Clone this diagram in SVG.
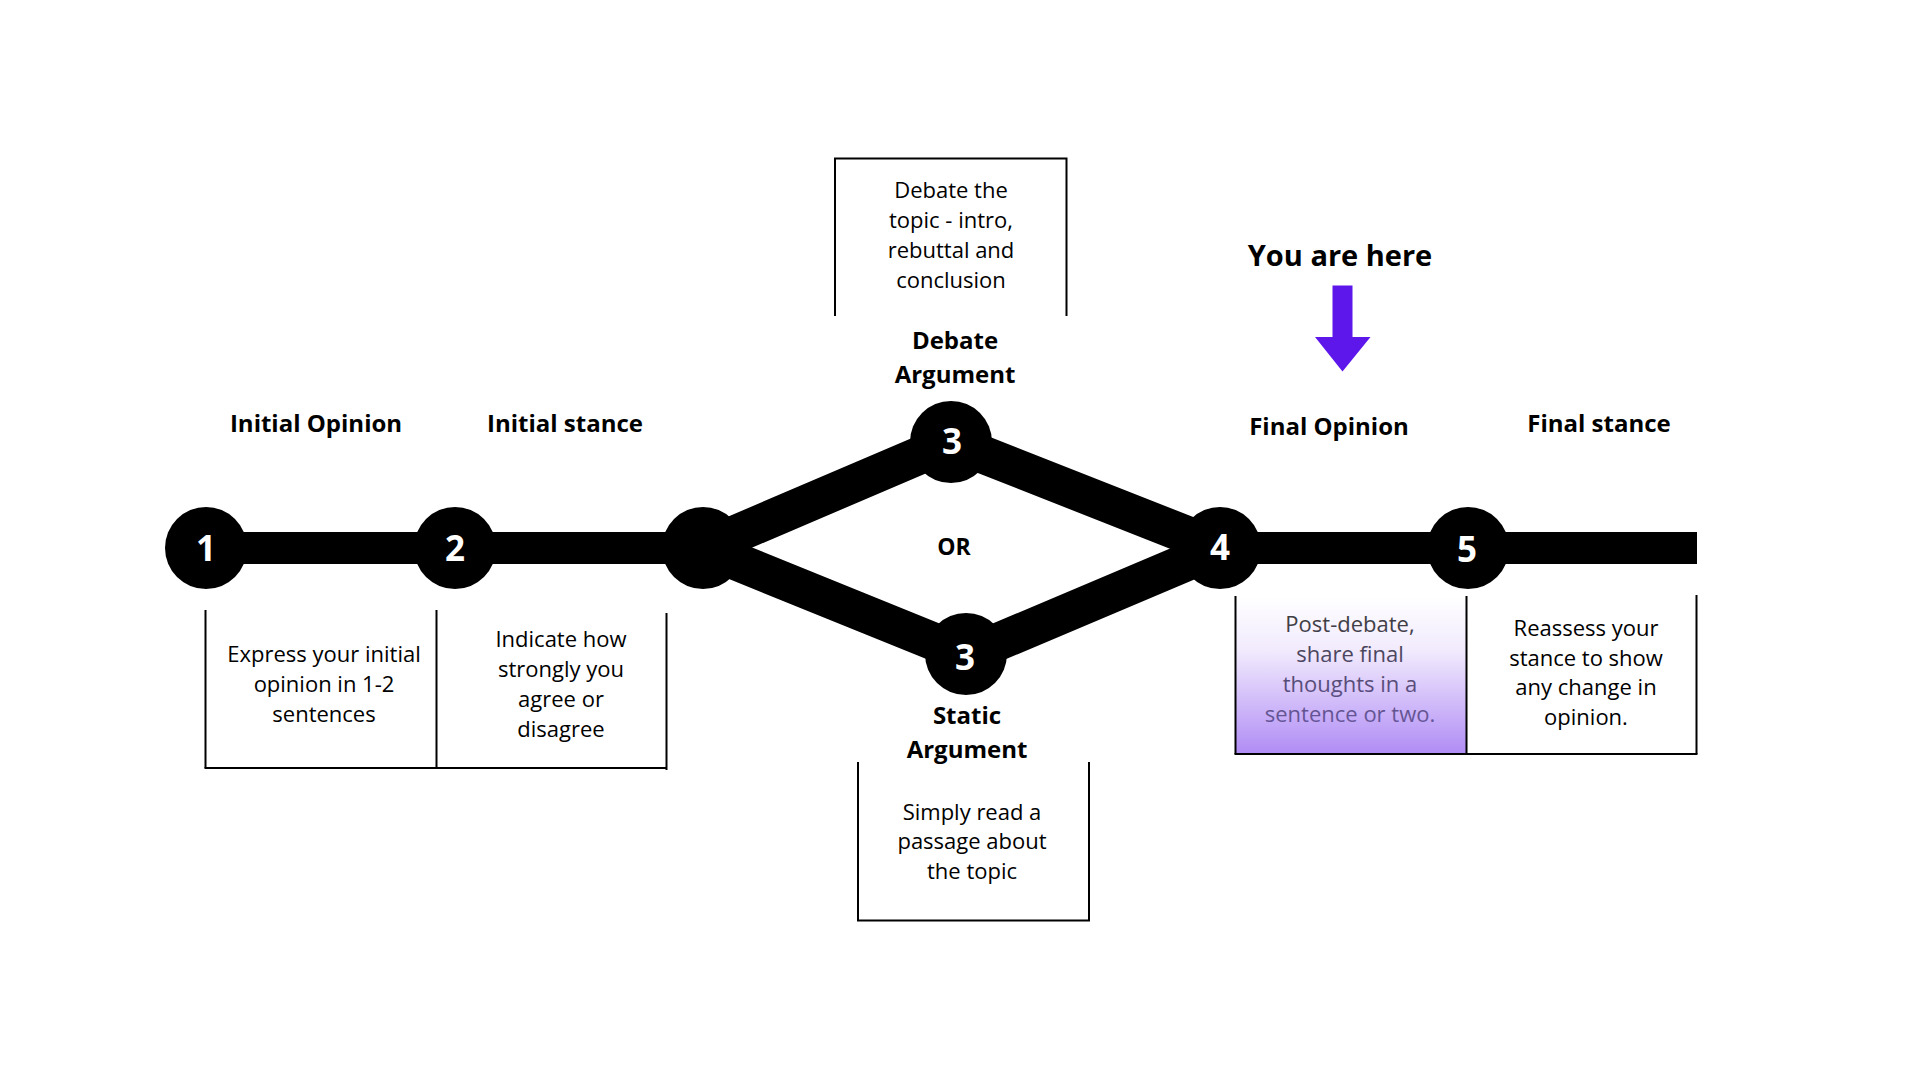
<svg xmlns="http://www.w3.org/2000/svg" width="1920" height="1080" viewBox="0 0 1920 1080">
<defs>
<linearGradient id="pbg" x1="0" y1="596" x2="0" y2="754" gradientUnits="userSpaceOnUse">
<stop offset="0" stop-color="#ffffff"/>
<stop offset="0.35" stop-color="#f1eafd"/>
<stop offset="1" stop-color="#b08cf5"/>
</linearGradient>
<linearGradient id="ptx" x1="0" y1="610" x2="0" y2="730" gradientUnits="userSpaceOnUse">
<stop offset="0" stop-color="#3a3a3a"/>
<stop offset="1" stop-color="#6a58a0"/>
</linearGradient>
<style>
.head{font-family:"Open Sans","Liberation Sans",sans-serif;font-weight:700;font-size:24px;fill:#000;text-anchor:middle}
.body{font-family:"Open Sans","Liberation Sans",sans-serif;font-weight:400;font-size:22px;fill:#000;text-anchor:middle}
.num{font-family:"Open Sans","Liberation Sans",sans-serif;font-weight:700;font-size:35px;fill:#fff;text-anchor:middle}
.box{fill:none;stroke:#000;stroke-width:2}
.bar{stroke:#000;stroke-width:32;fill:none}
.diag{stroke:#000;stroke-width:38;fill:none}
</style>
</defs>
<rect width="1920" height="1080" fill="#fff"/>

<g id="connectors">
<line class="bar" x1="206" y1="548" x2="703" y2="548"/>
<line class="bar" x1="1220" y1="548" x2="1697" y2="548"/>
<polyline class="diag" points="703,548 951,442 1220,548"/>
<polyline class="diag" points="703,548 967,655 1220,548"/>
</g>

<g id="node1">
<circle cx="206" cy="548" r="41" fill="#000"/>
<text class="num" x="206" y="561">1</text>
</g>
<g id="node2">
<circle cx="455" cy="548" r="41" fill="#000"/>
<text class="num" x="455" y="561">2</text>
</g>
<g id="node-branch">
<circle cx="703" cy="548" r="41" fill="#000"/>
</g>
<g id="node3-debate">
<circle cx="951" cy="442" r="41" fill="#000"/>
<text class="num" x="952" y="454">3</text>
</g>
<g id="node3-static">
<circle cx="966" cy="654" r="41" fill="#000"/>
<text class="num" x="965" y="670">3</text>
</g>
<g id="node4">
<circle cx="1220" cy="548" r="41" fill="#000"/>
<text class="num" x="1220" y="560">4</text>
</g>
<g id="node5">
<circle cx="1468" cy="548" r="41" fill="#000"/>
<text class="num" x="1467" y="562">5</text>
</g>

<g id="label-or">
<text class="head" x="954" y="555" style="font-size:23px">OR</text>
</g>

<g id="step1">
<text class="head" x="316" y="432">Initial Opinion</text>
<path class="box" d="M205.5,610 V768 M436.5,610 V768"/>
<path class="box" d="M204.5,768 H667"/>
<text class="body" x="324" y="662">Express your initial</text>
<text class="body" x="324" y="692">opinion in 1-2</text>
<text class="body" x="324" y="722">sentences</text>
</g>

<g id="step2">
<text class="head" x="565" y="432">Initial stance</text>
<path class="box" d="M666.5,613 V770"/>
<text class="body" x="561" y="647">Indicate how</text>
<text class="body" x="561" y="677">strongly you</text>
<text class="body" x="561" y="707">agree or</text>
<text class="body" x="561" y="737">disagree</text>
</g>

<g id="step3-debate">
<path class="box" d="M835,316 V158.5 H1066.5 V316"/>
<text class="body" x="951" y="198">Debate the</text>
<text class="body" x="951" y="228">topic - intro,</text>
<text class="body" x="951" y="258">rebuttal and</text>
<text class="body" x="951" y="288">conclusion</text>
<text class="head" x="955" y="349">Debate</text>
<text class="head" x="955" y="383">Argument</text>
</g>

<g id="step3-static">
<text class="head" x="967" y="724">Static</text>
<text class="head" x="967" y="758">Argument</text>
<path class="box" d="M858,762 V920.5 H1089 V762"/>
<text class="body" x="972" y="820">Simply read a</text>
<text class="body" x="972" y="849">passage about</text>
<text class="body" x="972" y="879">the topic</text>
</g>

<g id="step4">
<text class="head" x="1329" y="435">Final Opinion</text>
<rect x="1236" y="596" width="231" height="158" fill="url(#pbg)"/>
<path class="box" d="M1235.5,596 V754 M1466.5,596 V754"/>
<path class="box" d="M1234.5,754 H1697.5"/>
<text class="body" x="1350" y="632" fill="url(#ptx)" style="fill:url(#ptx)">Post-debate,</text>
<text class="body" x="1350" y="662" style="fill:url(#ptx)">share final</text>
<text class="body" x="1350" y="692" style="fill:url(#ptx)">thoughts in a</text>
<text class="body" x="1350" y="722" style="fill:url(#ptx)">sentence or two.</text>
</g>

<g id="step5">
<text class="head" x="1599" y="432">Final stance</text>
<path class="box" d="M1696.5,595 V754"/>
<text class="body" x="1586" y="636">Reassess your</text>
<text class="body" x="1586" y="666">stance to show</text>
<text class="body" x="1586" y="695">any change in</text>
<text class="body" x="1586" y="725">opinion.</text>
</g>

<g id="you-are-here">
<text class="head" x="1340" y="266" style="font-size:29px">You are here</text>
<polygon points="1332.5,285.5 1352.5,285.5 1352.5,337 1370.5,337 1342.5,371.5 1315,337 1332.5,337" fill="#5E17EB"/>
</g>
</svg>
